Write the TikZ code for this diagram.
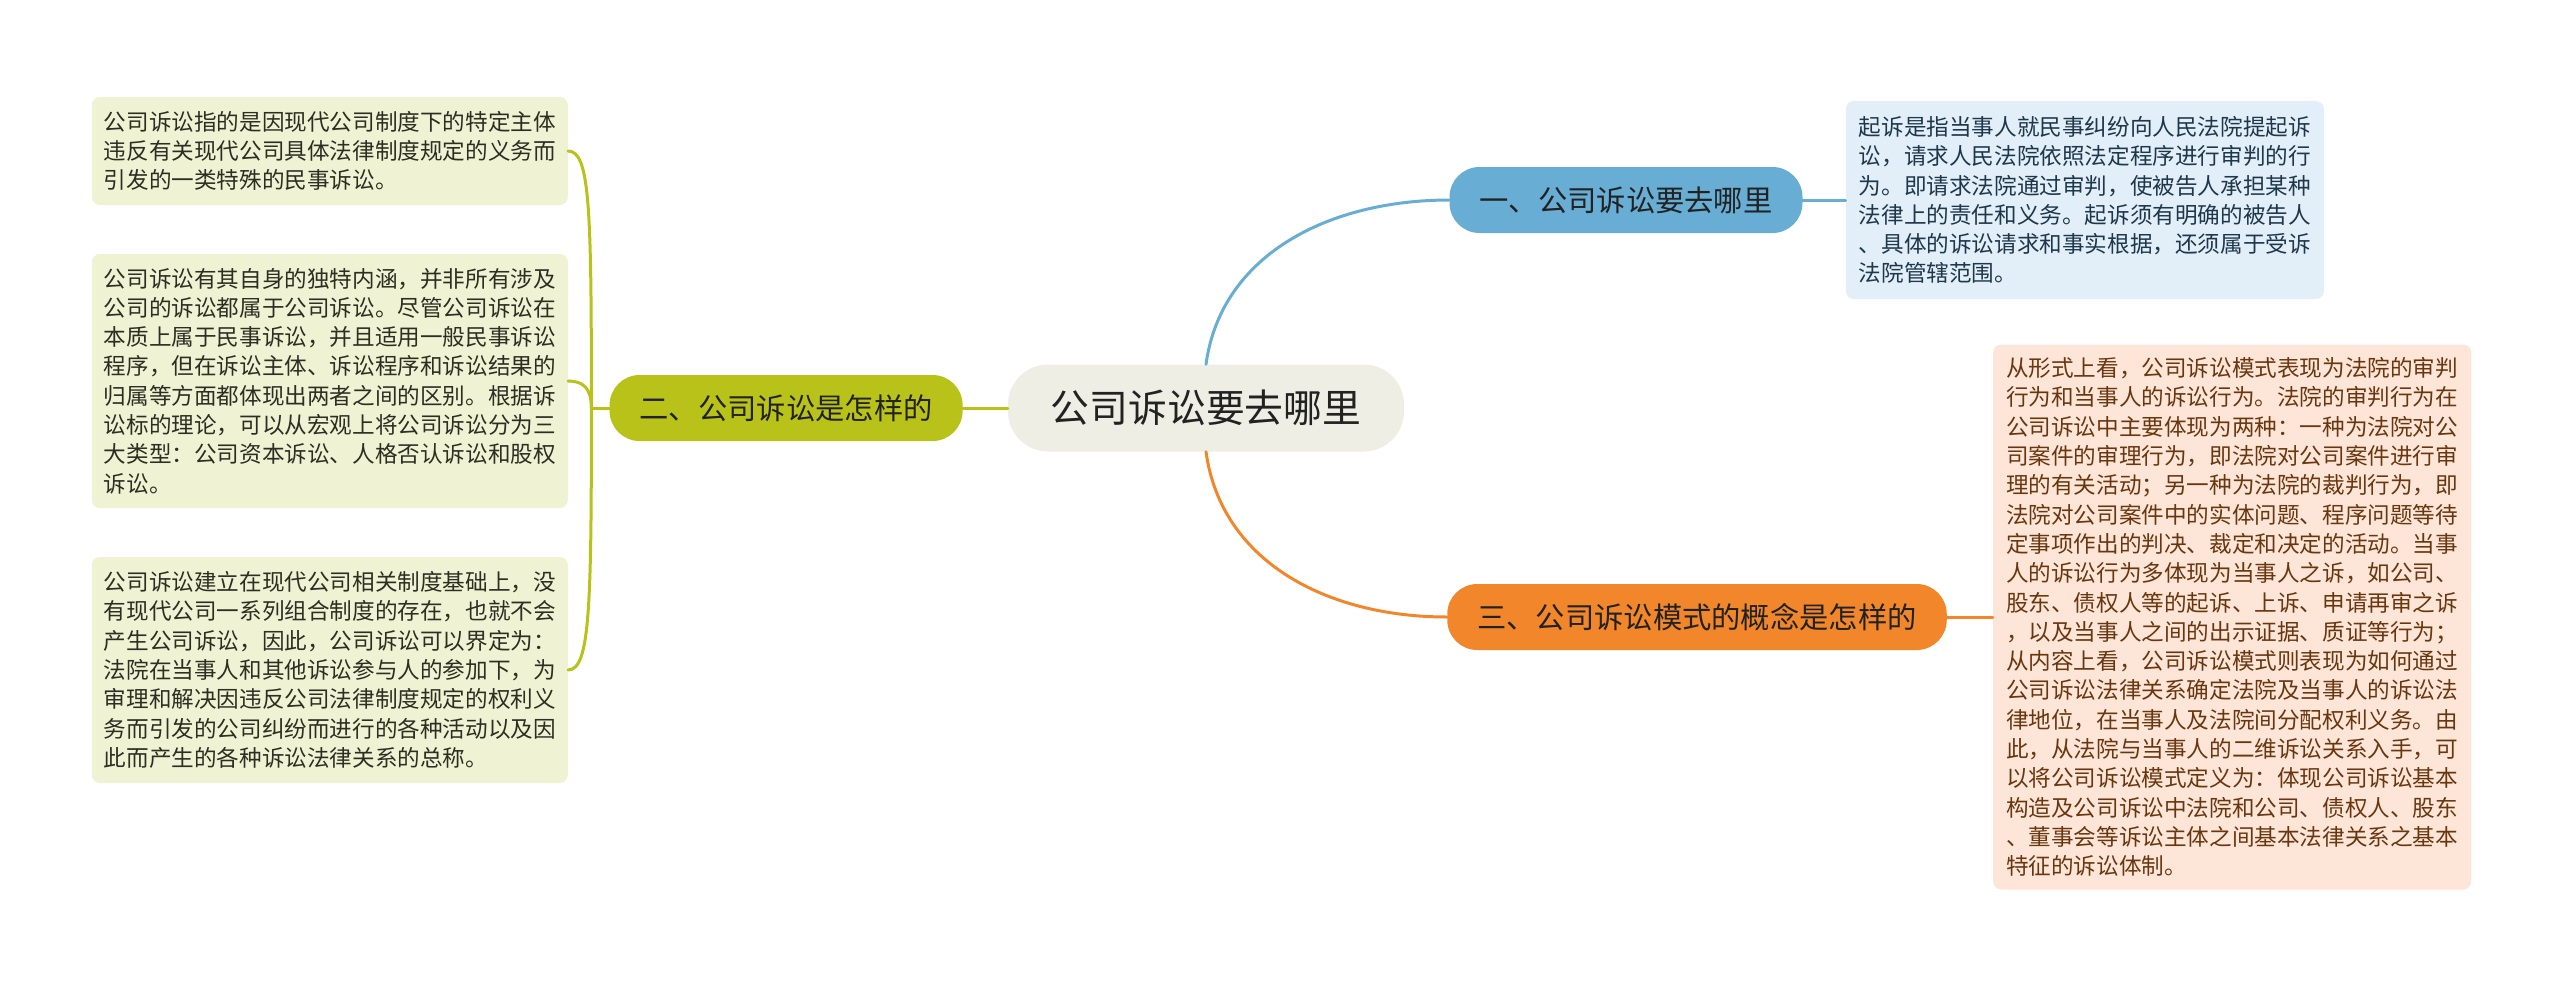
\documentclass[tikz,border=0pt]{standalone}
\usepackage{fontspec}
\setmainfont{Noto Sans CJK SC}
\usepackage{tikz}
\usetikzlibrary{positioning}
\definecolor{rootfill}{RGB}{238,238,228}
\definecolor{bluetopic}{RGB}{104,173,211}
\definecolor{greentopic}{RGB}{185,194,24}
\definecolor{orangetopic}{RGB}{241,135,42}
\definecolor{greenleaf}{RGB}{240,243,211}
\definecolor{blueleaf}{RGB}{226,239,248}
\definecolor{orangeleaf}{RGB}{253,230,216}
\definecolor{inkdark}{RGB}{34,34,34}
\definecolor{greenink}{RGB}{45,45,35}
\definecolor{blueink}{RGB}{30,55,75}
\definecolor{orangeink}{RGB}{105,55,15}
\tikzset{
  rootbox/.style={fill=rootfill, rounded corners=40pt, minimum width=396pt,
    minimum height=87pt, inner sep=0pt, text=inkdark,
    font=\fontsize{38.8}{46}\selectfont},
  topicbox/.style={rounded corners=30pt, minimum height=66pt, inner xsep=30pt,
    inner ysep=0pt, text=inkdark, font=\fontsize{29.3}{35}\selectfont},
  leafbox/.style={rounded corners=8pt, minimum width=478pt, inner xsep=12pt,
    inner ysep=0pt, align=left, font=\fontsize{22.6}{29.3}\selectfont},
  linkln/.style={line width=3pt, line cap=round},
}

\begin{document}
\begin{tikzpicture}[x=1pt, y=-1pt]
    \useasboundingbox (0,0) rectangle (2560,986);
    \node[rootbox] (root) at (1206,408) {公司诉讼要去哪里};
    \node[topicbox, fill=bluetopic] (t1) at (1626,200) {一、公司诉讼要去哪里};
    \node[topicbox, fill=greentopic, left=45pt of root] (t2) {二、公司诉讼是怎样的};
    \node[topicbox, fill=orangetopic] (t3) at (1697,617)
      {三、公司诉讼模式的概念是怎样的};

    \node[leafbox, fill=blueleaf, text=blueink, minimum height=198pt,
      right=43pt of t1] (r1)
      {起诉是指当事人就民事纠纷向人民法院提起诉\\
       讼，请求人民法院依照法定程序进行审判的行\\
       为。即请求法院通过审判，使被告人承担某种\\
       法律上的责任和义务。起诉须有明确的被告人\\
       、具体的诉讼请求和事实根据，还须属于受诉\\
       法院管辖范围。};
    \node[leafbox, fill=orangeleaf, text=orangeink, minimum height=545pt,
      right=46pt of t3] (r3)
      {从形式上看，公司诉讼模式表现为法院的审判\\
       行为和当事人的诉讼行为。法院的审判行为在\\
       公司诉讼中主要体现为两种：一种为法院对公\\
       司案件的审理行为，即法院对公司案件进行审\\
       理的有关活动；另一种为法院的裁判行为，即\\
       法院对公司案件中的实体问题、程序问题等待\\
       定事项作出的判决、裁定和决定的活动。当事\\
       人的诉讼行为多体现为当事人之诉，如公司、\\
       股东、债权人等的起诉、上诉、申请再审之诉\\
       ，以及当事人之间的出示证据、质证等行为；\\
       从内容上看，公司诉讼模式则表现为如何通过\\
       公司诉讼法律关系确定法院及当事人的诉讼法\\
       律地位，在当事人及法院间分配权利义务。由\\
       此，从法院与当事人的二维诉讼关系入手，可\\
       以将公司诉讼模式定义为：体现公司诉讼基本\\
       构造及公司诉讼中法院和公司、债权人、股东\\
       、董事会等诉讼主体之间基本法律关系之基本\\
       特征的诉讼体制。};

    \node[leafbox, fill=greenleaf, text=greenink, minimum width=471pt,
      minimum height=108pt, anchor=east] (l1) at (568,151)
      {公司诉讼指的是因现代公司制度下的特定主体\\
       违反有关现代公司具体法律制度规定的义务而\\
       引发的一类特殊的民事诉讼。};
    \node[leafbox, fill=greenleaf, text=greenink, minimum width=471pt,
      minimum height=254pt, anchor=east] (l2) at (568,381)
      {公司诉讼有其自身的独特内涵，并非所有涉及\\
       公司的诉讼都属于公司诉讼。尽管公司诉讼在\\
       本质上属于民事诉讼，并且适用一般民事诉讼\\
       程序，但在诉讼主体、诉讼程序和诉讼结果的\\
       归属等方面都体现出两者之间的区别。根据诉\\
       讼标的理论，可以从宏观上将公司诉讼分为三\\
       大类型：公司资本诉讼、人格否认诉讼和股权\\
       诉讼。};
    \node[leafbox, fill=greenleaf, text=greenink, minimum width=471pt,
      minimum height=226pt, anchor=east] (l3) at (568,670)
      {公司诉讼建立在现代公司相关制度基础上，没\\
       有现代公司一系列组合制度的存在，也就不会\\
       产生公司诉讼，因此，公司诉讼可以界定为：\\
       法院在当事人和其他诉讼参与人的参加下，为\\
       审理和解决因违反公司法律制度规定的权利义\\
       务而引发的公司纠纷而进行的各种活动以及因\\
       此而产生的各种诉讼法律关系的总称。};

    \draw[linkln, bluetopic] (root.north) .. controls +(15,-110) and +(-120,0) .. (t1.west);
    \draw[linkln, orangetopic] (root.south) .. controls +(15,110) and +(-120,0) .. (t3.west);
    \draw[linkln, greentopic] (root.west) -- (t2.east);
    \draw[linkln, bluetopic] (t1.east) -- (r1.west);
    \draw[linkln, orangetopic] (t3.east) -- (r3.west);

    \coordinate[left=18pt of t2.west] (fork);
    \draw[linkln, greentopic] (t2.west) -- (fork);
    \draw[linkln, greentopic] (fork) .. controls +(0,-200) and +(22,0) .. (l1.east);
    \draw[linkln, greentopic] (fork) .. controls +(0,-20) and +(15,0) .. (l2.east);
    \draw[linkln, greentopic] (fork) .. controls +(0,200) and +(22,0) .. (l3.east);
  \end{tikzpicture}
\end{document}
